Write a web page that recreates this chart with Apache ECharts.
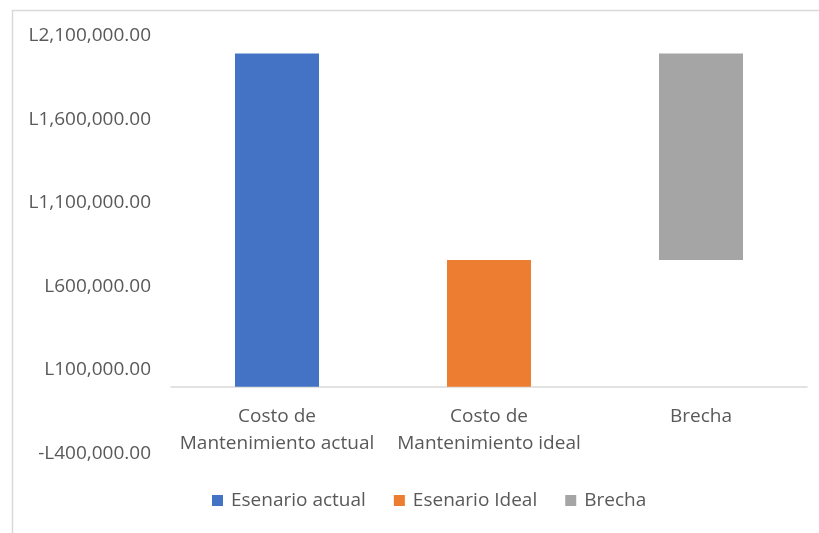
<!DOCTYPE html>
<html>
<head>
<meta charset="utf-8">
<script src="https://cdn.jsdelivr.net/npm/echarts@6/dist/echarts.min.js"></script>
<style>
html,body{margin:0;padding:0;background:#fff;}
#c{width:819px;height:533px;}
</style>
</head>
<body>
<div id="c"></div>
<script>
var categories = ['Costo de\nMantenimiento actual', 'Costo de\nMantenimiento ideal', 'Brecha'];
var seriesNames = ['Esenario actual', 'Esenario Ideal', 'Brecha'];
var actualValues = [1995000, '-', '-'];
var idealValues = ['-', 758000, '-'];
var brechaBase = ['-', '-', 758000];
var brechaValues = ['-', '-', 1237000];
var yMin = -400000, yMax = 2100000, yStep = 500000;

var font = '"Open Sans", sans-serif';
var txt = '#595959';
var gridTop = 36, gridBottom = 79.5, H = 533;
var plotH = H - gridTop - gridBottom;
var zeroOffset = plotH * (0 - yMin) / (yMax - yMin);

var chart = echarts.init(document.getElementById('c'), null, {renderer: 'canvas'});
chart.setOption({
  animation: false,
  backgroundColor: '#fff',
  graphic: [{
    type: 'rect', left: 10, top: 8, silent: true,
    shape: {width: 830, height: 545},
    style: {fill: 'none', stroke: '#d9d9d9', lineWidth: 1.5}
  }],
  grid: {left: 171, right: 12, top: gridTop, bottom: gridBottom, containLabel: false},
  legend: {
    data: seriesNames,
    bottom: 18, left: 207,
    itemWidth: 11, itemHeight: 11, itemGap: 28,
    icon: 'rect',
    textStyle: {color: txt, fontSize: 19, fontFamily: font, padding: [0, 0, 0, 3]}
  },
  xAxis: {
    type: 'category', data: categories,
    offset: -zeroOffset,
    axisLine: {show: true, onZero: false, lineStyle: {color: '#d9d9d9', width: 1.5}},
    axisTick: {show: false},
    axisLabel: {color: txt, fontSize: 19, fontFamily: font, margin: 16, lineHeight: 27, interval: 0}
  },
  yAxis: {
    type: 'value', min: yMin, max: yMax, interval: yStep,
    axisLine: {show: false}, axisTick: {show: false},
    splitLine: {show: false},
    axisLabel: {
      color: txt, fontSize: 19, fontFamily: font, margin: 20,
      formatter: function (v) {
        var s = Math.abs(v).toLocaleString('en-US', {minimumFractionDigits: 2, maximumFractionDigits: 2});
        return (v < 0 ? '-L' : 'L') + s;
      }
    }
  },
  series: [
    {name: seriesNames[0], type: 'bar', stack: 't', barWidth: 84, data: actualValues, itemStyle: {color: '#4472C4'}},
    {name: seriesNames[1], type: 'bar', stack: 't', barWidth: 84, data: idealValues, itemStyle: {color: '#ED7D31'}},
    {name: 'base', type: 'bar', stack: 't', barWidth: 84, data: brechaBase, itemStyle: {color: 'rgba(0,0,0,0)'}, silent: true},
    {name: seriesNames[2], type: 'bar', stack: 't', barWidth: 84, data: brechaValues, itemStyle: {color: '#A5A5A5'}}
  ]
});
</script>
</body>
</html>
